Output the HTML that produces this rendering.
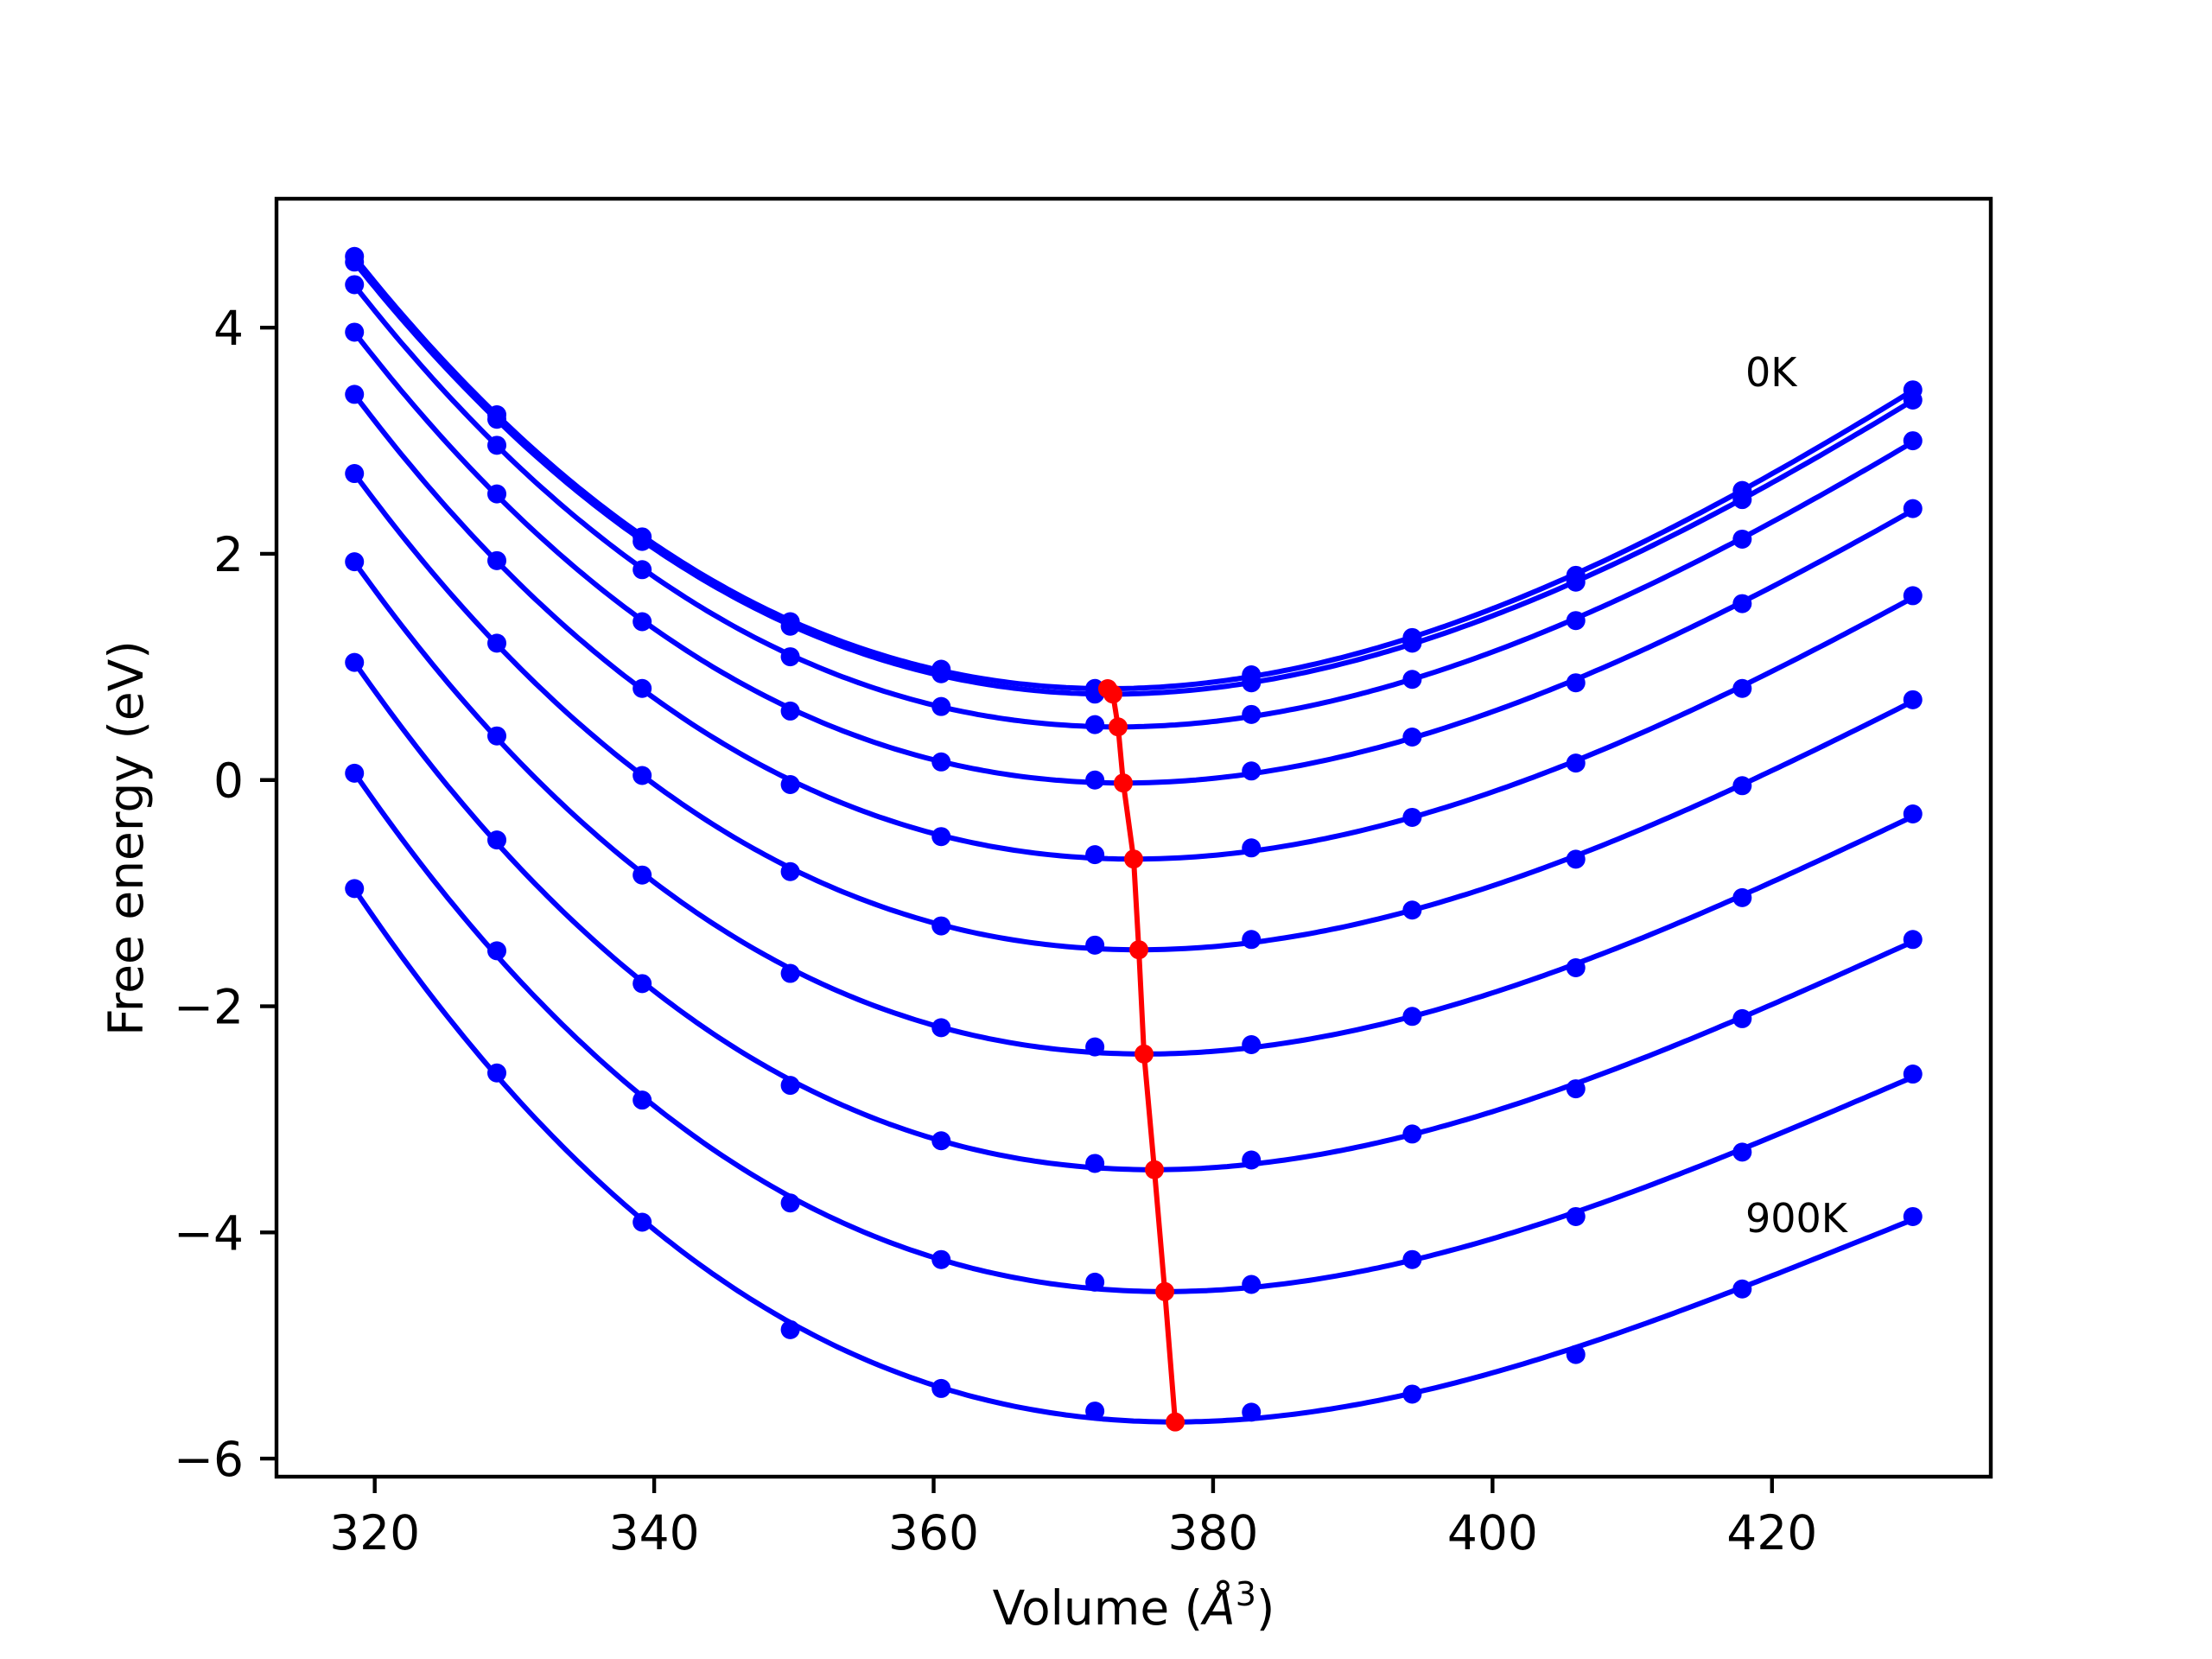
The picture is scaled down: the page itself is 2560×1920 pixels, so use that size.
<!DOCTYPE html>
<html><head><meta charset="utf-8"><style>
html,body{margin:0;padding:0;background:#fff;}
svg{display:block;}
text{font-family:"DejaVu Sans","Liberation Sans",sans-serif;fill:#000;}
</style></head><body>
<svg id="chart" width="2560" height="1920" viewBox="0 0 2560 1920" xmlns="http://www.w3.org/2000/svg">
<rect x="0" y="0" width="2560" height="1920" fill="#fff"/>
<g id="plot"></g>
<g id="axes"></g>
</svg>
<script>
const volumes = [318.55, 328.74, 339.14, 349.74, 360.54, 371.54, 382.74, 394.25, 405.96, 417.87, 430.08];
const temps = ["0K","100K","200K","300K","400K","500K","600K","700K","800K","900K"];
const e0 = [4.63, 3.23, 2.15, 1.40, 0.98, 0.81, 0.93, 1.26, 1.81, 2.56, 3.45];
const e1 = [4.58, 3.19, 2.11, 1.36, 0.94, 0.76, 0.86, 1.21, 1.75, 2.48, 3.36];
const e2 = [4.38, 2.96, 1.86, 1.09, 0.65, 0.49, 0.58, 0.89, 1.41, 2.13, 3.00];
const e3 = [3.96, 2.53, 1.40, 0.61, 0.16, 0.00, 0.08, 0.38, 0.86, 1.56, 2.40];
const e4 = [3.41, 1.94, 0.81, -0.04, -0.50, -0.66, -0.60, -0.33, 0.15, 0.81, 1.63];
const e5 = [2.71, 1.21, 0.04, -0.81, -1.29, -1.46, -1.41, -1.15, -0.70, -0.05, 0.71];
const e6 = [1.93, 0.39, -0.84, -1.71, -2.19, -2.36, -2.34, -2.09, -1.66, -1.04, -0.30];
const e7 = [1.04, -0.53, -1.80, -2.70, -3.19, -3.39, -3.36, -3.13, -2.73, -2.11, -1.41];
const e8 = [0.06, -1.51, -2.83, -3.74, -4.24, -4.44, -4.46, -4.24, -3.86, -3.29, -2.60];
const e9 = [-0.96, -2.59, -3.91, -4.86, -5.38, -5.58, -5.59, -5.43, -5.08, -4.50, -3.86];
const energies = [e0,e1,e2,e3,e4,e5,e6,e7,e8,e9];
const xTicks = [320, 340, 360, 380, 400, 420];
const yTicks = [-6, -4, -2, 0, 2, 4];

const NS = "http://www.w3.org/2000/svg";
const L = 320, R = 2304, T = 230, B = 1709;
const XMIN = 312.97, XMAX = 435.66, YMIN = -6.16, YMAX = 5.14;
function xs(v){ return L + (v - XMIN) / (XMAX - XMIN) * (R - L); }
function ys(v){ return B - (v - YMIN) / (YMAX - YMIN) * (B - T); }
function mk(tag, attrs, parent){ const e = document.createElementNS(NS, tag); for (const k in attrs) e.setAttribute(k, attrs[k]); parent.appendChild(e); return e; }

// cubic least squares fit
function fit(xv, yv){
  const c = 375, s = 50;
  const n = 4, A = [], bb = [];
  for (let i=0;i<n;i++){ A.push(new Array(n).fill(0)); bb.push(0); }
  xv.forEach((x,k)=>{ const t=(x-c)/s; const p=[1,t,t*t,t*t*t];
    for(let i=0;i<n;i++){ bb[i]+=p[i]*yv[k]; for(let j=0;j<n;j++) A[i][j]+=p[i]*p[j]; } });
  for(let i=0;i<n;i++){ let m=i; for(let r=i+1;r<n;r++) if(Math.abs(A[r][i])>Math.abs(A[m][i])) m=r;
    [A[i],A[m]]=[A[m],A[i]]; [bb[i],bb[m]]=[bb[m],bb[i]];
    for(let r=0;r<n;r++){ if(r===i) continue; const f=A[r][i]/A[i][i]; for(let j=i;j<n;j++) A[r][j]-=f*A[i][j]; bb[r]-=f*bb[i]; } }
  const co = bb.map((v,i)=>v/A[i][i]);
  return x => { const t=(x-c)/s; return co[0]+co[1]*t+co[2]*t*t+co[3]*t*t*t; };
}

const plot = document.getElementById('plot');
const axes = document.getElementById('axes');
const minima = [];
energies.forEach((ser, si) => {
  const f = fit(volumes, ser);
  const x0 = volumes[0], x1 = volumes[volumes.length-1];
  let d = '', best = null;
  for (let i=0;i<=300;i++){ const v = x0 + (x1-x0)*i/300; const y = f(v);
    d += (i?'L':'M') + xs(v).toFixed(1) + ',' + ys(y).toFixed(1);
    if (!best || y < best[1]) best = [v, y]; }
  minima.push(best);
  const p = mk('path', {d:d, fill:'none', stroke:'#0000ff', 'stroke-width':6, 'stroke-linejoin':'round'}, plot);
  
  
  ser.forEach((e, i) => {
    const c = mk('circle', {cx:xs(volumes[i]), cy:ys(e), r:11, fill:'#0000ff'}, plot);
    
    
  });
});
const rl = mk('polyline', {points: minima.map(m=>xs(m[0]).toFixed(1)+','+ys(m[1]).toFixed(1)).join(' '), fill:'none', stroke:'#ff0000', 'stroke-width':6}, plot);


minima.forEach((m, i) => {
  const c = mk('circle', {cx:xs(m[0]), cy:ys(m[1]), r:11, fill:'#ff0000'}, plot);
  
  
});

const sp = mk('rect', {x:L, y:T, width:R-L, height:B-T, fill:'none', stroke:'#000', 'stroke-width':4.4}, axes);


xTicks.forEach(t => {
  const x = xs(t);
  const tk = mk('line', {x1:x, x2:x, y1:B, y2:B+19, stroke:'#000', 'stroke-width':4.4}, axes);
  
  
  const tx = mk('text', {x:x, y:B+84, 'text-anchor':'middle', 'font-size':55}, axes);
  tx.textContent = t;
  
  
});
yTicks.forEach(t => {
  const y = ys(t);
  const tk = mk('line', {x1:L-19, x2:L, y1:y, y2:y, stroke:'#000', 'stroke-width':4.4}, axes);
  
  
  const tx = mk('text', {x:L-38, y:y+20, 'text-anchor':'end', 'font-size':55}, axes);
  tx.textContent = t < 0 ? '\u2212' + Math.abs(t) : String(t);
  
  
});
</script>
<svg style="position:absolute;left:0;top:0" width="2560" height="1920">
<text x="1312" y="1880" text-anchor="middle" font-size="55">Volume (<tspan font-style="italic">Å</tspan><tspan font-size="38" dy="-22">3</tspan><tspan dy="22">)</tspan></text>
<text transform="translate(165,970) rotate(-90)" text-anchor="middle" font-size="55">Free energy (eV)</text>
<text x="2020" y="447" font-size="46">0K</text>
<text x="2020" y="1426" font-size="46">900K</text>
</svg>
</body></html>
